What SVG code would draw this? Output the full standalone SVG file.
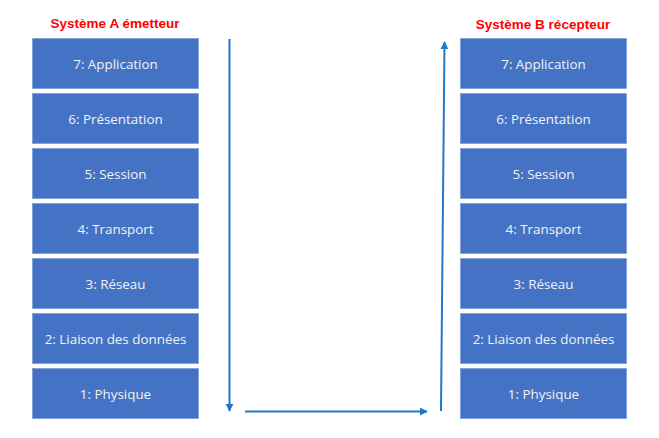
<svg xmlns="http://www.w3.org/2000/svg" width="659" height="438" viewBox="0 0 659 438">
<defs>
<style>
.box{fill:#4472C4;stroke:#7F9FD6;stroke-width:0.8}
.lbl{font-family:"Open Sans","Liberation Sans",sans-serif;font-size:13.4px;fill:#F2F2F2;text-anchor:middle;dominant-baseline:central}
.title{font-family:"Liberation Sans",Arial,sans-serif;font-size:13.5px;font-weight:bold;fill:#FF0000;text-anchor:middle}
.conn{stroke:#1F78C8;stroke-width:2;fill:none}
</style>
<marker id="ah" viewBox="0 0 10 10" refX="9" refY="5" markerWidth="4" markerHeight="4" orient="auto" markerUnits="strokeWidth">
<path d="M0,0 L10,5 L0,10 z" fill="#1F78C8"/>
</marker>
</defs>
<rect width="659" height="438" fill="#FFFFFF"/>
<text class="title" x="115" y="27.5">Système A émetteur</text>
<text class="title" x="543" y="28.5">Système B récepteur</text>
<g id="a7"><rect class="box" x="32.5" y="38.5" width="166" height="50"/><text class="lbl" x="115.5" y="63.8">7: Application</text></g>
<g id="a6"><rect class="box" x="32.5" y="93.5" width="166" height="50"/><text class="lbl" x="115.5" y="118.8">6: Présentation</text></g>
<g id="a5"><rect class="box" x="32.5" y="148.5" width="166" height="50"/><text class="lbl" x="115.5" y="173.8">5: Session</text></g>
<g id="a4"><rect class="box" x="32.5" y="203.5" width="166" height="50"/><text class="lbl" x="115.5" y="228.8">4: Transport</text></g>
<g id="a3"><rect class="box" x="32.5" y="258.5" width="166" height="50"/><text class="lbl" x="115.5" y="283.8">3: Réseau</text></g>
<g id="a2"><rect class="box" x="32.5" y="313.5" width="166" height="50"/><text class="lbl" x="115.5" y="338.8">2: Liaison des données</text></g>
<g id="a1"><rect class="box" x="32.5" y="368.5" width="166" height="50"/><text class="lbl" x="115.5" y="393.8">1: Physique</text></g>
<g id="b7"><rect class="box" x="460.5" y="38.5" width="166" height="50"/><text class="lbl" x="543.5" y="63.8">7: Application</text></g>
<g id="b6"><rect class="box" x="460.5" y="93.5" width="166" height="50"/><text class="lbl" x="543.5" y="118.8">6: Présentation</text></g>
<g id="b5"><rect class="box" x="460.5" y="148.5" width="166" height="50"/><text class="lbl" x="543.5" y="173.8">5: Session</text></g>
<g id="b4"><rect class="box" x="460.5" y="203.5" width="166" height="50"/><text class="lbl" x="543.5" y="228.8">4: Transport</text></g>
<g id="b3"><rect class="box" x="460.5" y="258.5" width="166" height="50"/><text class="lbl" x="543.5" y="283.8">3: Réseau</text></g>
<g id="b2"><rect class="box" x="460.5" y="313.5" width="166" height="50"/><text class="lbl" x="543.5" y="338.8">2: Liaison des données</text></g>
<g id="b1"><rect class="box" x="460.5" y="368.5" width="166" height="50"/><text class="lbl" x="543.5" y="393.8">1: Physique</text></g>
<g id="connectors">
<line class="conn" x1="229.5" y1="39" x2="229.5" y2="411" marker-end="url(#ah)"/>
<line class="conn" x1="245" y1="411.5" x2="427" y2="411.5" marker-end="url(#ah)"/>
<line class="conn" x1="441" y1="411" x2="444.5" y2="42" marker-end="url(#ah)"/>
</g>
</svg>
